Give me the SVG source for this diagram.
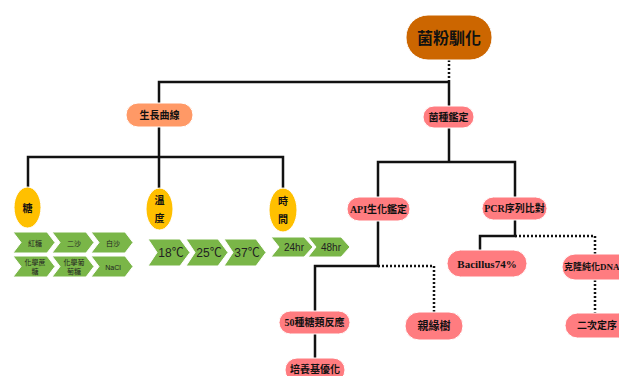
<svg xmlns="http://www.w3.org/2000/svg" width="619" height="376" viewBox="0 0 619 376">
<style>
.ln{fill:none;stroke:#111;stroke-width:2.5}
.dt{fill:none;stroke:#111;stroke-width:2.5;stroke-dasharray:2 2}
.pk{fill:#FF7C80;stroke:#fff;stroke-width:1}
.or{fill:#FF9966;stroke:#fff;stroke-width:1}
.yl{fill:#FFC000;stroke:#fff;stroke-width:1}
.gr{fill:#7AB648;stroke:#fff;stroke-width:1}
text{font-family:"Liberation Serif","Noto Sans CJK TC",serif;fill:#111;text-anchor:middle;dominant-baseline:central}
.t{font-size:10px;font-weight:bold}
.g{font-family:"Liberation Sans","Noto Sans CJK TC",sans-serif;font-size:7px;fill:#222}
.gl{font-family:"Liberation Sans","Noto Sans CJK TC",sans-serif;font-size:12px;fill:#222}
.gm{font-family:"Liberation Sans","Noto Sans CJK TC",sans-serif;font-size:10px;fill:#222}
</style>
<rect width="619" height="376" fill="#fff"/>
<g id="connectors">
<path class="dt" d="M449 60V82"/>
<path class="ln" d="M449 82H159V103M449 82V106"/>
<path class="ln" d="M159 127V188M28 188V157H283V188"/>
<path class="ln" d="M449 128V162H378V197M449 162H515V197"/>
<path class="ln" d="M378 221V266H315V311M315 334V358"/>
<path class="dt" d="M378 266H434V312"/>
<path class="ln" d="M515 220V236H480V250"/>
<path class="dt" d="M515 236H595V254M595 280V313"/>
</g>
<g id="root"><rect x="406" y="15" width="86" height="45" rx="22" fill="#CC6600" stroke="#fff"/><text x="449" y="38" style="font-size:16px;font-weight:bold">菌粉馴化</text></g>
<g id="growth"><rect class="or" x="126" y="103" width="67" height="24" rx="12"/><text class="t" x="159.5" y="115">生長曲線</text></g>
<g id="species"><rect class="pk" x="423" y="106" width="51" height="22" rx="11"/><text class="t" x="448.5" y="117">菌種鑑定</text></g>
<g id="sugar"><ellipse class="yl" cx="27.5" cy="207.5" rx="13.5" ry="20.5"/><text class="t" x="27.5" y="208">糖</text></g>
<g id="temp"><ellipse class="yl" cx="159.5" cy="209" rx="13.5" ry="21"/><text class="t" x="159.5" y="200">溫</text><text class="t" x="159.5" y="218">度</text></g>
<g id="time"><ellipse class="yl" cx="283" cy="210" rx="14" ry="22"/><text class="t" x="283" y="201">時</text><text class="t" x="283" y="219">間</text></g>
<g id="sugar-items">
<path class="gr" d="M13 232H47L55 242.5L47 253H13L21 242.5Z"/><text class="g" x="35" y="243">紅糖</text>
<path class="gr" d="M52 232H86L94 242.5L86 253H52L60 242.5Z"/><text class="g" x="74" y="243">二沙</text>
<path class="gr" d="M91 232H125L133 242.5L125 253H91L99 242.5Z"/><text class="g" x="113" y="243">白沙</text>
<path class="gr" d="M13 256H47L55 266.5L47 277H13L21 266.5Z"/><text class="g" x="35" y="262">化學蔗</text><text class="g" x="35" y="271">糖</text>
<path class="gr" d="M52 256H86L94 266.5L86 277H52L60 266.5Z"/><text class="g" x="74" y="262">化學葡</text><text class="g" x="74" y="271">萄糖</text>
<path class="gr" d="M91 256H125L133 266.5L125 277H91L99 266.5Z"/><text class="g" x="113" y="267">NaCl</text>
</g>
<g id="temp-items">
<path class="gr" d="M148 239H180L190 252.5L180 266H148L157 252.5Z"/><text class="gl" x="171" y="253">18℃</text>
<path class="gr" d="M186 239H218L228 252.5L218 266H186L195 252.5Z"/><text class="gl" x="209" y="253">25℃</text>
<path class="gr" d="M224 239H256L266 252.5L256 266H224L233 252.5Z"/><text class="gl" x="247" y="253">37℃</text>
</g>
<g id="time-items">
<path class="gr" d="M271 237H304L313 247L304 257H271L279 247Z"/><text class="gm" x="294" y="247">24hr</text>
<path class="gr" d="M308 237H341L350 247L341 257H308L316 247Z"/><text class="gm" x="331" y="247">48hr</text>
</g>
<g id="api"><rect class="pk" x="347" y="197" width="63" height="24" rx="12"/><text class="t" x="378.5" y="209">API生化鑑定</text></g>
<g id="pcr"><rect class="pk" x="482" y="197" width="65" height="23" rx="11.5"/><text class="t" x="514.5" y="208.5">PCR序列比對</text></g>
<g id="bacillus"><rect class="pk" x="447" y="250" width="80" height="27" rx="13.5"/><text class="t" x="487" y="263.5" style="font-size:11px">Bacillus74%</text></g>
<g id="clone"><rect class="pk" x="562" y="254" width="70" height="26" rx="13"/><text class="t" x="564" y="267" style="text-anchor:start;font-size:9px">克隆純化DNA</text></g>
<g id="seq2"><rect class="pk" x="565" y="313" width="66" height="25" rx="12.5"/><text class="t" x="597" y="325.5">二次定序</text></g>
<g id="sugar50"><rect class="pk" x="279" y="311" width="71" height="23" rx="11.5"/><text class="t" x="314.5" y="322.5">50種糖類反應</text></g>
<g id="tree"><rect class="pk" x="405" y="312" width="58" height="28" rx="14"/><text class="t" x="434" y="326" style="font-size:11px">親緣樹</text></g>
<g id="medium"><rect class="pk" x="285" y="358" width="60" height="24" rx="12"/><text class="t" x="315" y="369">培養基優化</text></g>
</svg>
